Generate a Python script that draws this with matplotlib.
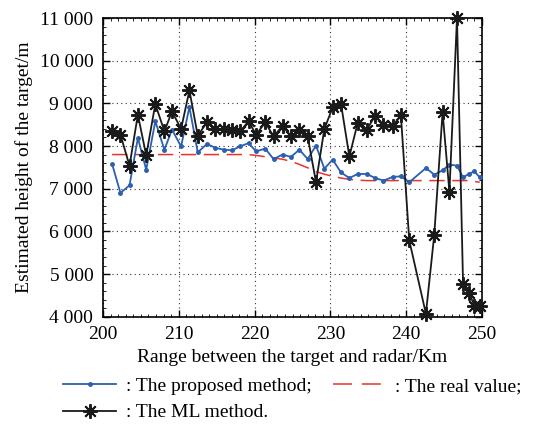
import numpy as np
import matplotlib
matplotlib.use("Agg")
import matplotlib.pyplot as plt
from matplotlib.ticker import FuncFormatter, MultipleLocator
from matplotlib.lines import Line2D

plt.rcParams['font.family'] = ['Liberation Serif', 'DejaVu Serif']
plt.rcParams['font.size'] = 14

# range of each measurement (km)
rng = [201.2, 202.3, 203.5, 204.6, 205.7, 206.9, 208.1, 209.1, 210.3, 211.4,
       212.5, 213.7, 214.8, 215.9, 217.0, 218.1, 219.2, 220.2, 221.4, 222.5,
       223.7, 224.8, 225.9, 227.0, 228.1, 229.2, 230.3, 231.4, 232.5, 233.6,
       234.8, 235.9, 237.0, 238.2, 239.3, 240.4, 242.6, 243.7, 244.8, 245.7,
       246.7, 247.5, 248.3, 249.0, 249.7]

proposed = [7580, 6900, 7080, 8190, 7445, 8580, 7915, 8385, 7990, 8915,
            7850, 8050, 7960, 7915, 7900, 7990, 8070, 7875, 7940, 7695,
            7800, 7745, 7915, 7695, 8010, 7470, 7680, 7380, 7250, 7345,
            7345, 7250, 7190, 7275, 7290, 7150, 7485, 7330, 7430, 7565,
            7540, 7265, 7350, 7405, 7265]

real = [7800, 7800, 7800, 7800, 7800, 7800, 7800, 7800, 7800, 7800,
        7800, 7800, 7800, 7800, 7800, 7800, 7800, 7780, 7750, 7720,
        7690, 7640, 7570, 7490, 7400, 7340, 7290, 7250, 7220, 7200,
        7190, 7190, 7190, 7190, 7190, 7190, 7190, 7190, 7190, 7190,
        7190, 7190, 7190, 7170, 7150]

ml = [8345, 8265, 7540, 8735, 7780, 8985, 8345, 8810, 8400, 9305,
      8240, 8555, 8400, 8400, 8365, 8345, 8580, 8265, 8555, 8225,
      8475, 8225, 8385, 8225, 7150, 8400, 8905, 8985, 7755, 8540,
      8385, 8710, 8500, 8460, 8720, 5790, 4070, 5920, 8790, 6925,
      11000, 4775, 4555, 4260, 4240]

fig = plt.figure(figsize=(5.52, 4.25), dpi=100)
ax = fig.add_axes([0.1866, 0.2548, 0.6866, 0.7028])

blue = '#2b5fb0'
ax.plot(rng, proposed, color=blue, lw=1.3, marker='.', ms=5, zorder=3)
ax.plot(rng, real, color='#e8322e', lw=1.1, dashes=(10, 5), zorder=2)
ax.plot(rng, ml, color='#1a1a1a', lw=1.3, marker=(8, 2, 0), ms=10.5,
        mew=1.4, zorder=4, clip_on=False)

ax.set_xlim(200, 250)
ax.set_ylim(4000, 11000)
ax.xaxis.set_major_locator(MultipleLocator(10))
ax.yaxis.set_major_locator(MultipleLocator(1000))
ax.xaxis.set_minor_locator(MultipleLocator(1))
ax.yaxis.set_minor_locator(MultipleLocator(200))
ax.yaxis.set_major_formatter(FuncFormatter(lambda v, p: f"{int(v):,}".replace(",", " ")))
ax.tick_params(which='both', direction='in', top=True, right=True)
ax.tick_params(which='major', length=5, width=1)
ax.tick_params(which='minor', length=2, width=0.6)
ax.tick_params(axis='x', pad=7)
ax.tick_params(axis='y', pad=7)
ax.grid(True, which='major', color='#333333', ls=(0, (1, 3)), lw=0.8)
for s in ax.spines.values():
    s.set_linewidth(1.2)

ax.set_xlabel('Range between the target and radar/Km', labelpad=4)
ax.set_ylabel('Estimated height of the target/m', labelpad=5)

handles = [
    Line2D([], [], color=blue, lw=1.3, marker='.', ms=5),
    Line2D([], [], color='#1a1a1a', lw=1.3, marker=(8, 2, 0), ms=10.5, mew=1.4),
    Line2D([], [], color='#e8322e', lw=1.1, dashes=(12.4, 6.5)),
]
labels = [': The proposed method;', ': The ML method.', ': The real value;']
fig.legend(handles, labels, ncol=2, loc='upper left', bbox_to_anchor=(0.115, 0.112),
           frameon=False, handlelength=2.7, handletextpad=0.5, columnspacing=1.1,
           labelspacing=0.45, borderaxespad=0, borderpad=0)

fig.savefig('out.png', dpi=100)
